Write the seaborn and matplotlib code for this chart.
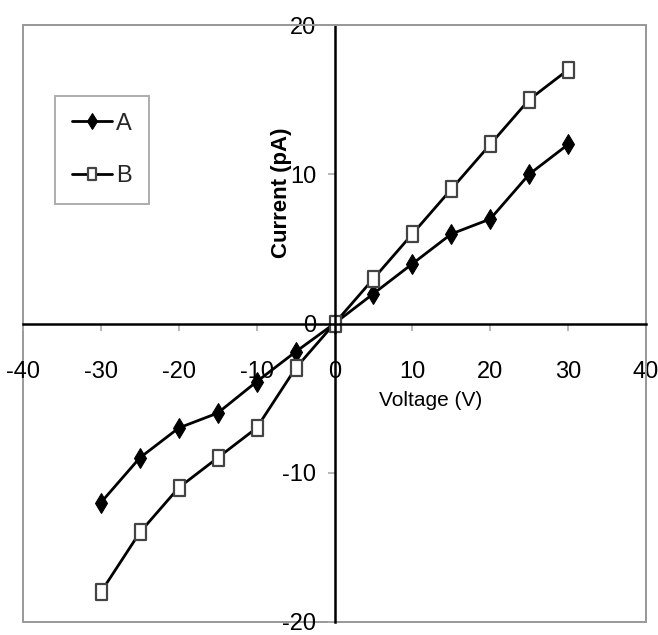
import matplotlib
matplotlib.use("Agg")
import matplotlib.pyplot as plt
import seaborn as sns
import pandas as pd
from matplotlib.patches import Rectangle
from matplotlib.path import Path

# ---- data ----
voltage = [-30, -25, -20, -15, -10, -5, 0, 5, 10, 15, 20, 25, 30]
current_a = [-12, -9, -7, -6, -3.9, -1.9, 0, 2, 4, 6, 7, 10, 12]
current_b = [-18, -14, -11, -9, -7, -3, 0, 3, 6, 9, 12, 15, 17]
series_names = ["A", "B"]
x_ticks = [-40, -30, -20, -10, 0, 10, 20, 30, 40]
y_ticks = [-20, -10, 0, 10, 20]
x_label = "Voltage (V)"
y_label = "Current (pA)"

sns.set_theme(style="white")
plt.rcParams['font.family'] = ['Liberation Sans', 'DejaVu Sans']

df = pd.DataFrame({
    "Voltage": voltage + voltage,
    "Current": current_a + current_b,
    "Series": [series_names[0]] * len(voltage) + [series_names[1]] * len(voltage),
})

W, H = 658, 635
fig = plt.figure(figsize=(W / 100, H / 100), dpi=100)
L, R, T, B = 23, 646, 25, 622
ax = fig.add_axes([L / W, (H - B) / H, (R - L) / W, (B - T) / H])

rect_marker = Path([(-0.36, -0.5), (0.36, -0.5), (0.36, 0.5), (-0.36, 0.5), (-0.36, -0.5)],
                   [Path.MOVETO, Path.LINETO, Path.LINETO, Path.LINETO, Path.CLOSEPOLY])

sns.lineplot(data=df[df["Series"] == "A"], x="Voltage", y="Current", ax=ax,
             color="black", lw=2, marker="d", markersize=10.5,
             markerfacecolor="black", markeredgecolor="black", label="A")
sns.lineplot(data=df[df["Series"] == "B"], x="Voltage", y="Current", ax=ax,
             color="black", lw=2, marker=rect_marker, markersize=11,
             markerfacecolor="white", markeredgecolor="#444444", markeredgewidth=1.6,
             label="B")

ax.set_xlim(-40, 40)
ax.set_ylim(-20, 20)
ax.set_xticks(x_ticks)
ax.set_yticks(y_ticks)
ax.set_xticklabels([str(v) for v in x_ticks])
ax.set_yticklabels([str(v) for v in y_ticks])

# cross axes through origin
for s in ["left", "bottom"]:
    ax.spines[s].set_position(("data", 0))
    ax.spines[s].set_color("black")
    ax.spines[s].set_linewidth(1.8)
for s in ["top", "right"]:
    ax.spines[s].set_color("#999999")
    ax.spines[s].set_linewidth(1.4)
ax.add_patch(Rectangle((0, 0), 1, 1, transform=ax.transAxes, fill=False,
                       edgecolor="#999999", linewidth=1.4, clip_on=False, zorder=0.4))

ax.tick_params(axis="both", which="major", bottom=True, left=True, direction="out",
               length=5, width=1.2, color="#aaaaaa", labelsize=17, labelcolor="black")
ax.tick_params(axis="x", pad=22)
ax.tick_params(axis="y", pad=8)

ax.set_xlabel(x_label, fontsize=15, color="black")
ax.xaxis.set_label_coords((431 - L) / (R - L), (B - 391) / (B - T))
ax.set_ylabel(y_label, fontsize=16, fontweight="bold", color="black", va="center")
ax.yaxis.set_label_coords((281 - L) / (R - L), (B - 193) / (B - T))

leg = ax.legend(loc="upper left", bbox_to_anchor=((55 - L) / (R - L), (B - 96) / (B - T)),
                borderaxespad=0, frameon=True, fancybox=False, fontsize=17,
                handlelength=1.7, handletextpad=0.2, labelspacing=1.3,
                borderpad=0.7, markerscale=0.8)
leg.get_frame().set_edgecolor("#999999")
leg.get_frame().set_linewidth(1.4)

fig.savefig("out.png", dpi=100)
